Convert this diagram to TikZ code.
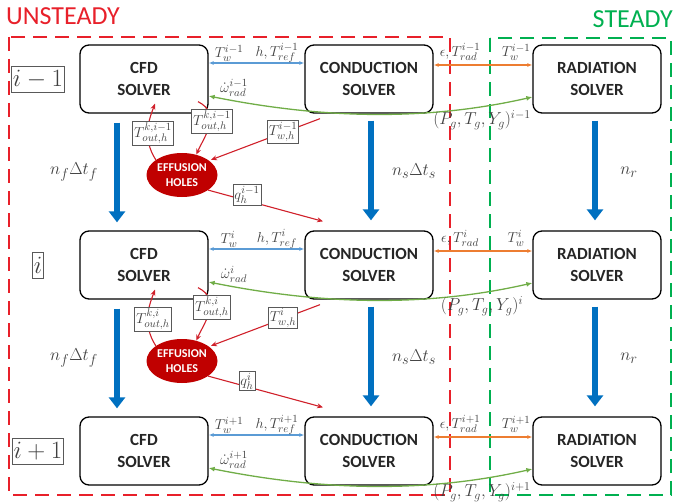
\documentclass[tikz,border=0pt]{standalone}
\usepackage{fontspec}
\setmainfont{Carlito}
\usetikzlibrary{shapes.geometric,arrows.meta}
\definecolor{ured}{HTML}{E8202A}
\definecolor{sgreen}{HTML}{00B050}
\definecolor{darrow}{HTML}{0070C0}
\definecolor{lblue}{HTML}{5B9BD5}
\definecolor{orng}{HTML}{ED7D31}
\definecolor{lgreen}{HTML}{70AD47}
\definecolor{effred}{HTML}{C00000}
\definecolor{redarr}{HTML}{D0202A}
\definecolor{txtgray}{HTML}{404040}
\tikzset{
  solver/.style={draw=black, line width=1.3pt, rounded corners=9pt, minimum width=128pt, minimum height=68pt, align=center, font=\fontsize{17}{22}\selectfont\bfseries, text=black!85, inner sep=0pt},
  eff/.style={ellipse, fill=effred, minimum width=71pt, minimum height=44pt, inner sep=0pt, text=white, font=\fontsize{12}{15}\selectfont\bfseries, align=center},
  lab/.style={text=txtgray, font=\fontsize{15}{17}\selectfont, inner sep=0pt},
  blab/.style={lab, draw=gray!70!black, fill=white, inner sep=1.5pt, line width=0.8pt},
  steplab/.style={text=txtgray, draw=gray!70!black, line width=0.9pt, inner sep=1pt, minimum height=26pt, font=\fontsize{23}{25}\selectfont},
  bigarr/.style={draw=darrow, line width=6pt, -{Triangle[length=11pt, width=16pt]}},
  redline/.style={draw=redarr, line width=1.1pt, -{Stealth[length=6pt, width=5pt]}},
  bluelink/.style={draw=lblue, line width=1.1pt, {Latex[length=5pt,width=4pt]}-{Latex[length=5pt,width=4pt]}},
  orlink/.style={draw=orng, line width=1.1pt, {Latex[length=5pt,width=4pt]}-{Latex[length=5pt,width=4pt]}},
  grlink/.style={draw=lgreen, line width=1.3pt, {Latex[length=6pt,width=5pt]}-{Latex[length=6pt,width=5pt]}},
  steplbl/.style={text=txtgray, font=\fontsize{19}{21}\selectfont, inner sep=0pt},
  region/.style={line width=2.5pt, dash pattern=on 14pt off 8pt}
}
\begin{document}
\begin{tikzpicture}[x=1pt,y=-1pt]
\useasboundingbox (0,0) rectangle (673,503);
% regions
\draw[region, draw=ured] (9,37) rectangle (450,495);
\draw[region, draw=sgreen] (490,38) rectangle (671,495);
\node[text=ured, font=\fontsize{26}{28}\selectfont, anchor=west, inner sep=0pt] (unst) at (6,16) {UNSTEADY};
\node[text=sgreen, font=\fontsize{26}{28}\selectfont, anchor=east, inner sep=0pt] (stdy) at (673,19) {STEADY};
% rows
\foreach \y/\s/\n in {79/{i-1}/1, 265/{i}/2, 451/{i+1}/3}{
  \node[solver] (cfd\n) at (144,\y) {CFD\\SOLVER};
  \node[solver] (cond\n) at (369,\y) {CONDUCTION\\SOLVER};
  \node[solver] (rad\n) at (597,\y) {RADIATION\\SOLVER};
  \node[steplab] (step\n) at (38,\y) {$\s$};
  \draw[bluelink] ([yshift=16pt]cfd\n.east) -- ([yshift=16pt]cond\n.west);
  \draw[orlink] ([yshift=14pt]cond\n.east) -- ([yshift=14pt]rad\n.west);
  \draw[grlink] ([yshift=-18pt]rad\n.west) .. controls +(-110,25) and +(110,22) .. ([yshift=-17pt]cfd\n.east);
  \node[lab] (tw\n) at (229,\y-26) {$T_w^{\s}$};
  \node[lab] (href\n) at (277,\y-26) {$h, T_{ref}^{\s}$};
  \node[lab] (om\n) at (234,\y+9) {$\dot{\omega}_{rad}^{\s}$};
  \node[lab] (eps\n) at (460,\y-27) {$\epsilon, T_{rad}^{\s}$};
  \node[lab] (twr\n) at (516,\y-27) {$T_w^{\s}$};
  \node[lab, font=\fontsize{17}{19}\selectfont] (pg\n) at (482,\y+41) {$(P_g, T_g, Y_g)^{\s}$};
}
% between rows
\foreach \n/\m/\y/\s/\k in {1/2/79/{i-1}/{k,i-1}, 2/3/265/{i}/{k,i}}{
  \draw[bigarr] ([xshift=-27pt,yshift=-9pt]cfd\n.south) -- ([xshift=-27pt,yshift=8pt]cfd\m.north);
  \draw[bigarr] ([xshift=2pt,yshift=-7pt]cond\n.south) -- ([xshift=2pt,yshift=10pt]cond\m.north);
  \draw[bigarr] ([xshift=-2pt,yshift=-7pt]rad\n.south) -- ([xshift=-2pt,yshift=10pt]rad\m.north);
  \node[steplbl] (nf\n) at (74,\y+93) {$n_f\Delta t_f$};
  \node[steplbl] (ns\n) at (414,\y+92) {$n_s\Delta t_s$};
  \node[steplbl] (nr\n) at (629,\y+93) {$n_r$};
  \node[eff] (eff\n) at (182,\y+96) {EFFUSION\\HOLES};
  \draw[redline] (eff\n.150) .. controls +(-14,-22) and +(-6,16) .. ([xshift=11pt,yshift=10pt]cfd\n.south);
  \draw[redline] ([xshift=54pt,yshift=12pt]cfd\n.south) .. controls +(24,12) and +(8,-18) .. (eff\n.55);
  \draw[redline, shorten >=2pt] ([xshift=-49pt,yshift=-5pt]cond\n.south) -- (eff\n.28);
  \draw[redline] (eff\n.-30) -- ([xshift=-46pt,yshift=9pt]cond\m.north);
  \node[blab] (la\n) at (153,\y+54) {$T_{out,h}^{\k}$};
  \node[blab] (lb\n) at (212,\y+42) {$T_{out,h}^{\k}$};
  \node[blab] (lc\n) at (283,\y+53) {$T_{w,h}^{\s}$};
  \node[blab] (ld\n) at (247,\y+116) {$q_h^{\s}$};
}
\end{tikzpicture}
\end{document}
